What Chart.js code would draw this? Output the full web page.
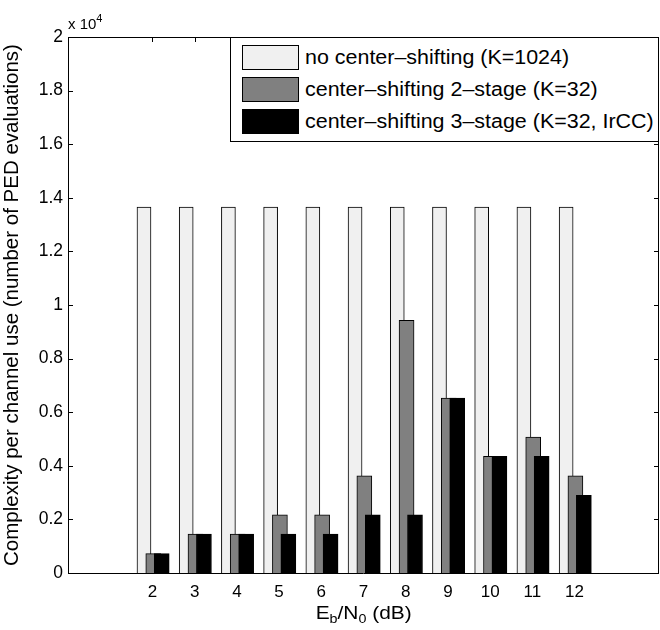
<!DOCTYPE html>
<html>
<head>
<meta charset="utf-8">
<script src="https://cdn.jsdelivr.net/npm/chart.js@4.4.1/dist/chart.umd.min.js"></script>
<style>
  body { margin: 0; background: #fff; }
  #wrap { position: relative; width: 660px; height: 630px; font-family: "Liberation Sans", Arial, sans-serif; }
  #legend { position: absolute; background: #fff; border: 1px solid #000; box-sizing: border-box; }
  .row { position: absolute; left: 11px; height: 25px; display: flex; align-items: center; white-space: nowrap; font-size: 19.5px; color: #000; }
  .row span { display: inline-block; transform: scaleX(1.1); transform-origin: 0 50%; }
  .sw { width: 57px; height: 25px; box-sizing: border-box; border: 1px solid #000; margin-right: 6px; }
  #xtitle { position: absolute; font-size: 19px; white-space: nowrap; transform: scaleX(1.1); transform-origin: 50% 0; }
  #xtitle sub { font-size: 13px; vertical-align: -4px; }
  #mult { position: absolute; font-size: 15px; white-space: nowrap; }
  #mult sup { font-size: 11px; vertical-align: 7px; }
</style>
</head>
<body>
<div id="wrap">
  <canvas id="chart" width="660" height="630"></canvas>
  <div id="mult">x 10<sup>4</sup></div>
  <div id="xtitle">E<sub>b</sub>/N<sub>0</sub> (dB)</div>
  <div id="legend"></div>
</div>
<script>
// Eb/N0 points (dB)
const ebn0 = [2, 3, 4, 5, 6, 7, 8, 9, 10, 11, 12];

// complexity per channel use (number of PED evaluations)
const noShift = [13650, 13650, 13650, 13650, 13650, 13650, 13650, 13650, 13650, 13650, 13650];
const shift2 = [725, 1450, 1450, 2175, 2175, 3625, 9425, 6525, 4350, 5075, 3625];
const shift3 = [725, 1450, 1450, 1450, 1450, 2175, 2175, 6525, 4350, 4350, 2900];

const seriesNames = [
    'no center\u2013shifting (K=1024)',
    'center\u2013shifting 2\u2013stage (K=32)',
    'center\u2013shifting 3\u2013stage (K=32, IrCC)'
];
const colors = ['#f0f0f0', '#808080', '#000000'];

// bars of a group overlap like MATLAB's bar(), so shift each series a bit
const offsets = [-0.2, 0.02, 0.22];
const widths = [14, 15, 15];

function toPoints(values, k) {
    return values.map((v, i) => ({ x: ebn0[i] + offsets[k], y: v }));
}

// box with inward ticks, MATLAB style
const matlabAxes = {
    id: 'matlabAxes',
    beforeDatasetsDraw(chart) {
        const { ctx, chartArea: a, scales: { x, y } } = chart;
        ctx.save();
        ctx.strokeStyle = '#000';
        ctx.lineWidth = 1;
        ctx.beginPath();
        ebn0.forEach(v => {
            const px = Math.round(x.getPixelForValue(v)) + 0.5;
            ctx.moveTo(px, a.top); ctx.lineTo(px, a.top + 5);
            ctx.moveTo(px, a.bottom); ctx.lineTo(px, a.bottom - 5);
        });
        y.ticks.forEach(t => {
            const py = Math.round(y.getPixelForValue(t.value)) + 0.5;
            ctx.moveTo(a.left, py); ctx.lineTo(a.left + 5, py);
            ctx.moveTo(a.right, py); ctx.lineTo(a.right - 5, py);
        });
        ctx.stroke();
        ctx.restore();
    },
    afterDatasetsDraw(chart) {
        const { ctx, chartArea: a } = chart;
        const l = Math.round(a.left) + 0.5, r = Math.round(a.right) - 0.5;
        const t = Math.round(a.top) + 0.5, b = Math.round(a.bottom) + 0.5;
        ctx.save();
        ctx.strokeStyle = '#000';
        ctx.lineWidth = 1;
        ctx.beginPath();
        ctx.moveTo(l, t); ctx.lineTo(r, t); ctx.lineTo(r, b); ctx.lineTo(l, b); ctx.closePath();
        ctx.stroke();
        ctx.restore();
    },
    afterRender(chart) {
        const a = chart.chartArea;
        const legend = document.getElementById('legend');
        legend.style.left = (a.right - 429) + 'px';
        legend.style.top = a.top + 'px';
        legend.style.width = '429px';
        legend.style.height = '105px';
        const xt = document.getElementById('xtitle');
        xt.style.left = ((a.left + a.right) / 2 - xt.offsetWidth / 2) + 'px';
        xt.style.top = '602px';
        const m = document.getElementById('mult');
        m.style.left = a.left + 'px';
        m.style.top = '12px';
    }
};

// legend rows
const legendBox = document.getElementById('legend');
seriesNames.forEach((name, k) => {
    const row = document.createElement('div');
    row.className = 'row';
    row.style.top = (7 + k * 32) + 'px';
    row.innerHTML = `<div class="sw" style="background:${colors[k]}"></div><span>${name}</span>`;
    legendBox.appendChild(row);
});

new Chart(document.getElementById('chart'), {
    type: 'bar',
    data: {
        datasets: [noShift, shift2, shift3].map((vals, k) => ({
            label: seriesNames[k],
            data: toPoints(vals, k),
            backgroundColor: colors[k],
            borderColor: '#000',
            borderWidth: 1,
            barThickness: widths[k],
            grouped: false,
            order: 3 - k
        }))
    },
    options: {
        responsive: false,
        animation: false,
        layout: { padding: { top: 37, right: 1, left: 0, bottom: 0 } },
        plugins: { legend: { display: false }, tooltip: { enabled: false } },
        scales: {
            x: {
                type: 'linear',
                offset: false,
                min: 0, max: 14,
                // tickLength only pushes the labels down, the marks themselves are drawn by matlabAxes
                grid: { display: false, drawTicks: true, tickLength: 9 },
                border: { display: false },
                ticks: {
                    stepSize: 1, autoSkip: false, maxRotation: 0, padding: 0,
                    color: '#000',
                    font: { family: 'Liberation Sans', size: 17 },
                    callback: v => ebn0.includes(v) ? String(v) : ''
                },
                afterFit(s) { s.height = 57; }
            },
            y: {
                min: 0, max: 20000,
                grid: { display: false, drawTicks: false },
                border: { display: false },
                ticks: {
                    stepSize: 2000, padding: 5, color: '#000',
                    font: { family: 'Liberation Sans', size: 17.5 },
                    callback: v => String(+(v / 1e4).toFixed(1))
                },
                title: {
                    display: true,
                    text: 'Complexity per channel use (number of PED evaluations)',
                    color: '#000',
                    font: { family: 'Liberation Sans', size: 20.5 },
                    padding: { top: 0, bottom: 0 }
                },
                afterFit(s) { s.width = 68; }
            }
        }
    },
    plugins: [matlabAxes]
});
</script>
</body>
</html>
